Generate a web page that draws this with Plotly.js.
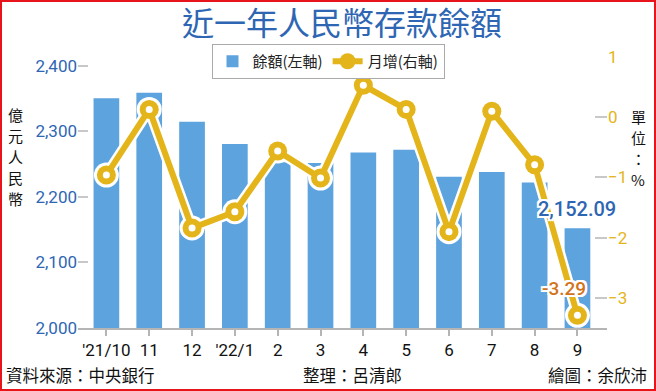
<!DOCTYPE html>
<html>
<head>
<meta charset="utf-8">
<script src="https://cdn.plot.ly/plotly-3.0.1.min.js"></script>
<style>
  html, body { margin: 0; padding: 0; background: #fff; }
  #wrap { position: relative; width: 656px; height: 391px; }
  #chart { width: 656px; height: 391px; }
  #frame { position: absolute; left: 0; top: 0; width: 652px; height: 387px; border: 2px solid #e8141b; pointer-events: none; }
</style>
</head>
<body>
<div id="wrap"><div id="chart"></div><div id="frame"></div></div>
<script>
const months = ["'21/10", "11", "12", "'22/1", "2", "3", "4", "5", "6", "7", "8", "9"];
const balance = [2350.7, 2359.0, 2315.0, 2281.0, 2253.0, 2252.0, 2268.0, 2272.0, 2231.0, 2238.0, 2222.0, 2152.09];
const monthlyChange = [-0.96, 0.13, -1.84, -1.57, -0.56, -1.01, 0.53, 0.13, -1.90, 0.10, -0.79, -3.29];
const leftTicks = [2000, 2100, 2200, 2300, 2400];
const rightTicks = [-3, -2, -1, 0, 1];
const leftTitle = ['億', '元', '人', '民', '幣'];
const rightTitle = ['單', '位', '：', '%'];

const BLUE = '#5DA3DE';
const GOLD = '#E4B51B';
const TXTBLUE = '#2E66B3';
const H = 391;
const ML = 78, MR = 49, MT = 57, MB = 63;
const PW = 656 - ML - MR, PH = H - MT - MB;
const px = (x) => (x - ML) / PW;           // pixel -> paper x
const py = (y) => (H - MB - y) / PH;       // pixel -> paper y

const last = months.length - 1;
const halo = 'white 2px 0px 0px, white -2px 0px 0px, white 0px 2px 0px, white 0px -2px 0px, white 2px 2px 0px, white -2px -2px 0px, white 2px -2px 0px, white -2px 2px 0px';

const traces = [
  { type: 'bar', x: months, y: balance, name: '餘額(左軸)', marker: { color: BLUE }, width: 0.6, yaxis: 'y', hoverinfo: 'none' },
  { type: 'scatter', mode: 'lines+markers', x: months, y: monthlyChange, yaxis: 'y2', showlegend: false,
    line: { color: '#ffffff', width: 11 }, marker: { color: '#ffffff', size: 25 }, hoverinfo: 'none' },
  { type: 'scatter', mode: 'lines+markers', x: months, y: monthlyChange, yaxis: 'y2', name: '月增(右軸)',
    line: { color: GOLD, width: 6 }, marker: { color: GOLD, size: 19 }, hoverinfo: 'none' },
  { type: 'scatter', mode: 'markers', x: months, y: monthlyChange, yaxis: 'y2', showlegend: false,
    marker: { color: '#ffffff', size: 7 }, hoverinfo: 'none' }
];

const cjk = '"Noto Sans CJK TC", "Noto Sans CJK SC", sans-serif';
const num = 'Roboto, "Noto Sans", sans-serif';

const annotations = [
  { xref: 'x', yref: 'y', x: last, y: balance[last], text: balance[last].toLocaleString('en-US', {minimumFractionDigits: 2}),
    showarrow: false, yanchor: 'bottom', xanchor: 'center', yshift: 5, xshift: 0,
    font: { family: num, size: 20, color: TXTBLUE, weight: 500, shadow: halo } },
  { xref: 'x', yref: 'y2', x: last, y: monthlyChange[last], text: monthlyChange[last].toFixed(2),
    showarrow: false, yanchor: 'middle', xanchor: 'center', yshift: 27, xshift: -13,
    font: { family: num, size: 19, color: '#D2731C', weight: 500, shadow: halo } },
  { xref: 'paper', yref: 'paper', x: px(4), y: py(375), text: '資料來源：中央銀行', showarrow: false,
    xanchor: 'left', yanchor: 'middle', font: { family: cjk, size: 16.5, color: '#111' } },
  { xref: 'paper', yref: 'paper', x: px(352), y: py(375), text: '整理：呂清郎', showarrow: false,
    xanchor: 'center', yanchor: 'middle', font: { family: cjk, size: 16.5, color: '#111' } },
  { xref: 'paper', yref: 'paper', x: px(649), y: py(375), text: '繪圖：余欣沛', showarrow: false,
    xanchor: 'right', yanchor: 'middle', font: { family: cjk, size: 16.5, color: '#111' } }
];
leftTitle.forEach((ch, i) => annotations.push({
  xref: 'paper', yref: 'paper', x: px(15), y: py(114 + 21 * i), text: ch, showarrow: false, borderpad: 0,
  xanchor: 'center', yanchor: 'middle', font: { family: cjk, size: 15, color: '#111' }
}));
rightTitle.forEach((ch, i) => annotations.push({
  xref: 'paper', yref: 'paper', x: px(638), y: py(116 + 21 * i), text: ch, showarrow: false, borderpad: 0,
  xanchor: 'center', yanchor: 'middle', font: { family: cjk, size: 15, color: '#111' }
}));

const layout = {
  width: 656, height: 391,
  margin: { l: ML, r: MR, t: MT, b: MB, autoexpand: false },
  paper_bgcolor: '#ffffff', plot_bgcolor: '#ffffff',
  title: { text: '近一年人民幣存款餘額', x: 342 / 656, xref: 'container', xanchor: 'center', y: 1 - 24 / H, yref: 'container', yanchor: 'middle',
    font: { family: cjk, size: 32, color: TXTBLUE, weight: 400 } },
  showlegend: true,
  legend: { orientation: 'h', xref: 'container', yref: 'container', x: 328 / 656, xanchor: 'center', y: 1 - 44 / H, yanchor: 'top',
    bgcolor: '#ffffff', bordercolor: '#aaaaaa', borderwidth: 1, font: { family: cjk, size: 15, color: '#222' },
    traceorder: 'normal' },
  xaxis: { type: 'category', range: [-0.663, 11.69], showline: true, linecolor: '#b5b5b5', linewidth: 2,
    ticks: 'outside', tickcolor: '#b5b5b5', ticklen: 6, tickwidth: 2, showgrid: false, zeroline: false,
    tickfont: { family: num, size: 17, color: '#111' }, fixedrange: true },
  yaxis: { range: [2000, 2413.7], tickvals: leftTicks, tickformat: ',', showgrid: false, zeroline: false,
    showline: false, ticks: 'inside', ticklen: 10, tickwidth: 2, tickcolor: '#c8c8c8',
    tickfont: { family: num, size: 17, color: TXTBLUE }, fixedrange: true },
  yaxis2: { overlaying: 'y', side: 'right', range: [-3.5, 1], tickvals: rightTicks, showgrid: false, zeroline: false,
    showline: false, ticks: 'inside', ticklen: 12, tickwidth: 2, tickcolor: '#c8c8c8',
    tickfont: { family: num, size: 17, color: GOLD }, fixedrange: true },
  annotations: annotations
};

Plotly.newPlot('chart', traces, layout, { staticPlot: true, displayModeBar: false });
</script>
</body>
</html>
